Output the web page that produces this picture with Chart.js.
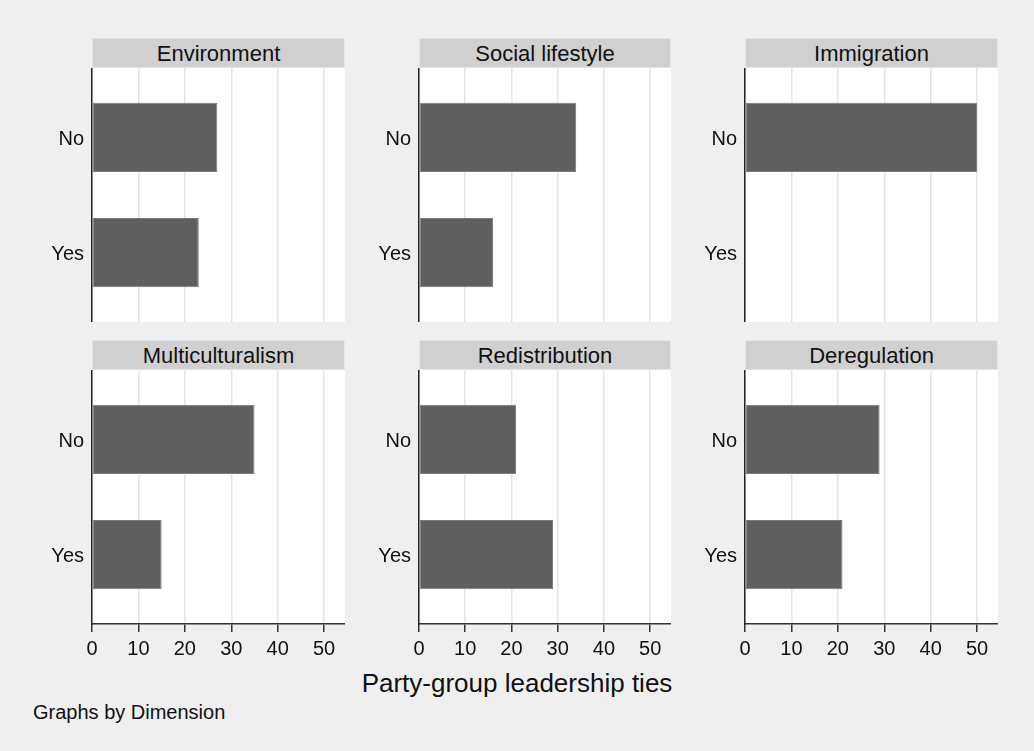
<!DOCTYPE html>
<html lang="en">
<head>
<meta charset="utf-8">
<title>Party-group leadership ties by dimension</title>
<script src="https://cdn.jsdelivr.net/npm/chart.js"></script>
<style>
    body {
        margin: 0;
        background: #efefef;
        font-family: "Liberation Sans", Arial, sans-serif;
        color: #111;
    }
    #page {
        position: relative;
        width: 1034px;
        height: 751px;
        overflow: hidden;
    }
    .strip {
        position: absolute;
        height: 30px;
        line-height: 30px;
        background: #d0d0d0;
        border: 1px solid #dfe7ea;
        box-sizing: border-box;
        text-align: center;
        font-size: 22px;
    }
    .panel {
        position: absolute;
    }
    #xtitle {
        position: absolute;
        left: 0;
        width: 1034px;
        top: 668px;
        line-height: 30px;
        text-align: center;
        font-size: 26px;
    }
    #note {
        position: absolute;
        left: 33px;
        top: 700px;
        line-height: 24px;
        font-size: 20px;
    }
</style>
</head>
<body>
<div id="page">
    <div id="xtitle">Party-group leadership ties</div>
    <div id="note">Graphs by Dimension</div>
</div>

<script>
    const panels = ['Environment', 'Social lifestyle', 'Immigration', 'Multiculturalism', 'Redistribution', 'Deregulation'];
    const answers = ['No', 'Yes'];
    const noTies = [27, 34, 50, 35, 21, 29];
    const yesTies = [23, 16, 0, 15, 29, 21];
    const xTicks = [0, 10, 20, 30, 40, 50];

    const colLeft = [92, 419, 745];
    const colWidth = [253, 252, 253];
    const stripTop = [38, 340];
    const plotHeight = 254;
    const yAxisWidth = 70;
    const xAxisHeight = 38;

    const page = document.getElementById('page');

    // drop the label padding chart.js adds so the plot fills the box exactly
    function noPadding(scale) {
        scale.paddingTop = 0;
        scale.paddingBottom = 0;
        scale.paddingLeft = 0;
        scale.paddingRight = 0;
    }

    panels.forEach(function (name, i) {
        const row = Math.floor(i / 3);
        const col = i % 3;
        const bottomRow = row === 1;

        const strip = document.createElement('div');
        strip.className = 'strip';
        strip.style.left = colLeft[col] + 'px';
        strip.style.top = stripTop[row] + 'px';
        strip.style.width = colWidth[col] + 'px';
        strip.textContent = name;
        page.appendChild(strip);

        const box = document.createElement('div');
        box.className = 'panel';
        const w = yAxisWidth + colWidth[col];
        const h = plotHeight + (bottomRow ? xAxisHeight : 0);
        box.style.left = (colLeft[col] - yAxisWidth) + 'px';
        box.style.top = (stripTop[row] + 30) + 'px';
        box.style.width = w + 'px';
        box.style.height = h + 'px';
        const canvas = document.createElement('canvas');
        box.appendChild(canvas);
        page.appendChild(box);

        const values = [noTies[i], yesTies[i]];

        new Chart(canvas, {
            type: 'bar',
            data: {
                datasets: [{
                    data: values.map(function (v, k) { return { x: v, y: k }; }),
                    backgroundColor: '#5f5f5f',
                    borderColor: '#7a7a7a',
                    borderWidth: 1,
                    borderSkipped: false,
                    barPercentage: 0.6,
                    categoryPercentage: 1
                }]
            },
            plugins: [{
                id: 'whiteArea',
                beforeDraw: function (chart) {
                    const a = chart.chartArea;
                    chart.ctx.save();
                    chart.ctx.fillStyle = '#ffffff';
                    chart.ctx.fillRect(a.left, a.top, a.right - a.left, a.bottom - a.top);
                    chart.ctx.restore();
                }
            }],
            options: {
                indexAxis: 'y',
                responsive: true,
                maintainAspectRatio: false,
                animation: false,
                layout: { padding: 0 },
                plugins: {
                    legend: { display: false },
                    tooltip: { enabled: false }
                },
                scales: {
                    x: {
                        min: 0,
                        max: 54.5,
                        afterBuildTicks: function (scale) {
                            scale.ticks = xTicks.map(function (v) { return { value: v }; });
                        },
                        afterFit: function (scale) {
                            scale.height = bottomRow ? xAxisHeight : 0;
                            noPadding(scale);
                        },
                        grid: {
                            color: '#e4e4e4',
                            lineWidth: 1.5,
                            drawTicks: bottomRow,
                            tickLength: 8,
                            tickColor: '#333333'
                        },
                        border: {
                            display: bottomRow,
                            color: '#333333',
                            width: 1.5
                        },
                        ticks: {
                            display: bottomRow,
                            color: '#111111',
                            padding: 5,
                            maxRotation: 0,
                            font: { family: 'Liberation Sans', size: 20 }
                        }
                    },
                    y: {
                        type: 'linear',
                        reverse: true,
                        offset: false,
                        min: -0.6,
                        max: 1.6,
                        afterBuildTicks: function (scale) {
                            scale.ticks = answers.map(function (a, k) { return { value: k }; });
                        },
                        afterFit: function (scale) {
                            scale.width = yAxisWidth;
                            noPadding(scale);
                        },
                        grid: { display: false, drawTicks: false },
                        border: {
                            display: true,
                            color: '#222222',
                            width: 1.5
                        },
                        ticks: {
                            color: '#111111',
                            padding: 8,
                            labelOffset: 2,
                            font: { family: 'Liberation Sans', size: 20 },
                            callback: function (v) { return answers[v]; }
                        }
                    }
                }
            }
        });
    });
</script>
</body>
</html>
